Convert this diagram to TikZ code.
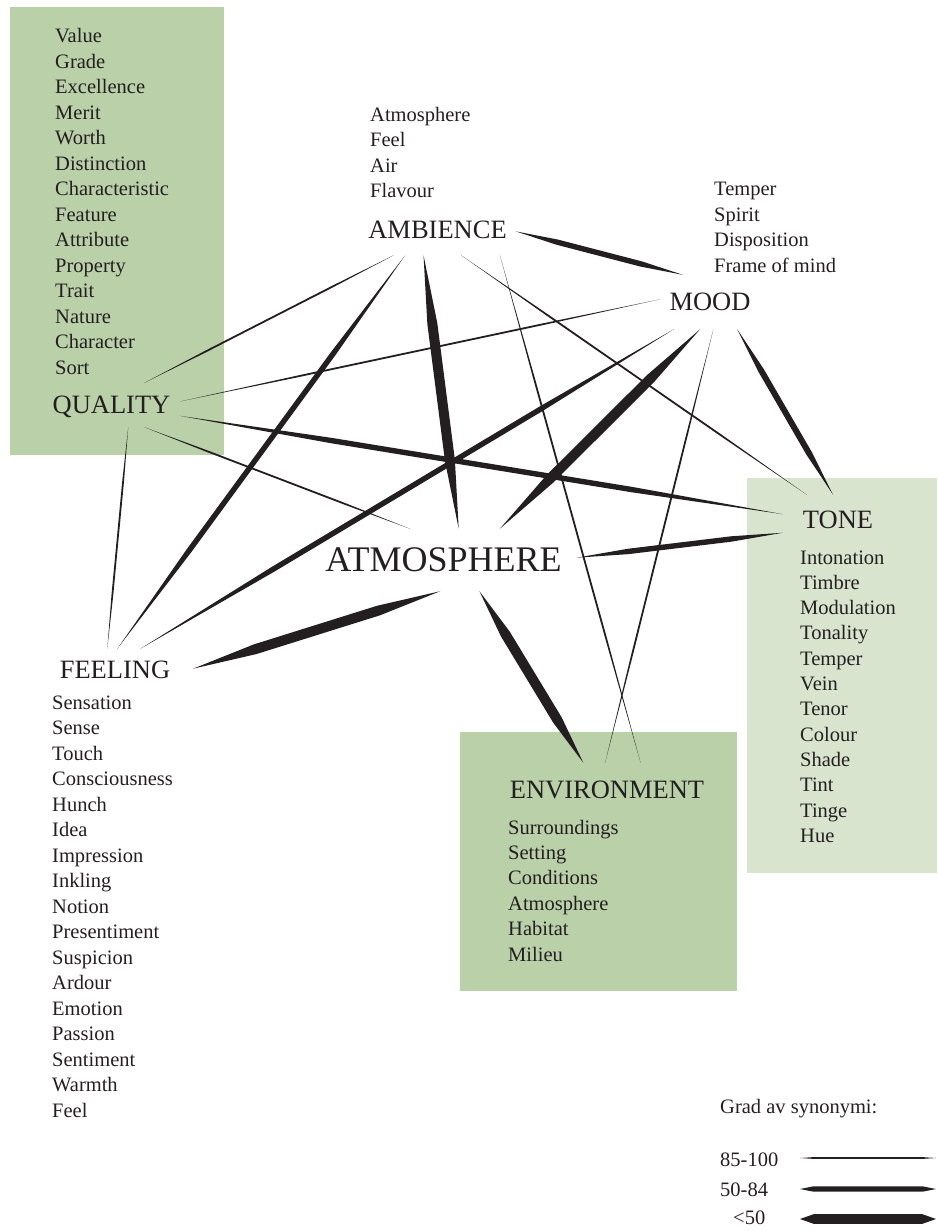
\documentclass[tikz,border=0pt]{standalone}
\usepackage{fontspec}
\setmainfont{Liberation Serif}
\usetikzlibrary{calc}
\definecolor{inkgray}{RGB}{35, 31, 32}
\definecolor{sagegreen}{RGB}{185, 208, 168}
\definecolor{palegreen}{RGB}{217, 228, 207}

% tapered connector: [taper]{from}{to}{half width}
\newcommand{\synlink}[4][0.25]{%
  \fill[inkgray] (#2)
    -- ($(#2)!#1!(#3)!#4!90:(#3)$)
    -- ($(#3)!#1!(#2)!#4!-90:(#2)$)
    -- (#3)
    -- ($(#3)!#1!(#2)!#4!90:(#2)$)
    -- ($(#2)!#1!(#3)!#4!-90:(#3)$)
    -- cycle;}

\tikzset{
  hub/.style={font=\fontsize{26.5}{30}\selectfont, text=inkgray, inner sep=0pt,
    text height=17.5pt, text depth=0pt},
  synword/.style={font=\fontsize{20.5}{24}\selectfont, text=inkgray, inner sep=0pt,
    anchor=base west},
}

\begin{document}
\begin{tikzpicture}[x=1pt, y=-1pt]
  \useasboundingbox (0,0) rectangle (937,1231);

  % boxes
  \fill[sagegreen] (10,7) rectangle (224,455);
  \fill[palegreen] (747,478) rectangle (937,873);
  \fill[sagegreen] (460,732) rectangle (737,991);

  % headwords
  \node[hub, minimum width=156pt, minimum height=50pt] (amb) at (437.5,230) {AMBIENCE};
  \node[hub, minimum width=100pt, minimum height=54pt] (mood) at (710,302) {MOOD};
  \node[hub, minimum width=137pt, minimum height=44pt] (qual) at (111.5,405) {QUALITY};
  \node[hub, minimum width=110pt, minimum height=50pt] (tone) at (838,520) {TONE};
  \node[hub, font=\fontsize{36}{40}\selectfont, text height=23.8pt,
    minimum width=266pt, minimum height=62pt] (atm) at (443.5,560) {ATMOSPHERE};
  \node[hub, minimum width=156pt, minimum height=42pt] (feel) at (115,670) {FEELING};
  \node[hub, minimum width=198pt, minimum height=54pt] (env) at (607,790) {ENVIRONMENT};

  % synonym lists
  \foreach \w [count=\i from 0] in {Value, Grade, Excellence, Merit, Worth, Distinction,
      Characteristic, Feature, Attribute, Property, Trait, Nature, Character, Sort}
    \node[synword] (q\i) at (55, 42.5+25.5*\i) {\w};
  \foreach \w [count=\i from 0] in {Atmosphere, Feel, Air, Flavour}
    \node[synword] (a\i) at (370, 121.5+25.3*\i) {\w};
  \foreach \w [count=\i from 0] in {Temper, Spirit, Disposition, Frame of mind}
    \node[synword] (m\i) at (714, 195.5+25.5*\i) {\w};
  \foreach \w [count=\i from 0] in {Intonation, Timbre, Modulation, Tonality, Temper, Vein,
      Tenor, Colour, Shade, Tint, Tinge, Hue}
    \node[synword] (t\i) at (800, 564+25.3*\i) {\w};
  \foreach \w [count=\i from 0] in {Sensation, Sense, Touch, Consciousness, Hunch, Idea,
      Impression, Inkling, Notion, Presentiment, Suspicion, Ardour, Emotion, Passion,
      Sentiment, Warmth, Feel}
    \node[synword] (f\i) at (52, 709+25.5*\i) {\w};
  \foreach \w [count=\i from 0] in {Surroundings, Setting, Conditions, Atmosphere,
      Habitat, Milieu}
    \node[synword] (e\i) at (508, 834+25.4*\i) {\w};

  % connectors: 0.9pt = 85-100, 2.7pt = 50-84, 5pt = <50
  \synlink{amb.-1.5}{mood.135}{2.7pt}
  \synlink{amb.-150.4}{qual.34.9}{0.9pt}
  \synlink{amb.-142}{feel.84.6}{2.7pt}
  \synlink{amb.-119.2}{atm.64.9}{5pt}
  \synlink{amb.-47.4}{tone.141.1}{0.9pt}
  \synlink{amb.-22.3}{env.39.3}{0.9pt}
  \synlink{mood.177.7}{qual.3.3}{0.9pt}
  \synlink{mood.-143.9}{feel.40}{2.7pt}
  \synlink{mood.-110.3}{atm.29.6}{5pt}
  \synlink{mood.-45}{tone.101.3}{3pt}
  \synlink{mood.-83.7}{env.94.2}{0.9pt}
  \synlink{qual.-9.9}{tone.174.8}{2.7pt}
  \synlink{qual.-34.9}{atm.137.2}{0.9pt}
  \synlink{qual.-53.1}{feel.110.9}{0.9pt}
  \synlink{atm.-96.4}{feel.1.5}{5pt}
  \synlink{atm.1.3}{tone.-167.7}{2.7pt}
  \synlink{atm.-41.1}{env.131.6}{5pt}

  % legend
  \node[synword] (key) at (720,1113) {Grad av synonymi:};
  \node[synword] (k1) at (720,1166) {85-100};
  \node[synword] (k2) at (720,1196) {50-84};
  \node[synword] (k3) at (733,1224) {<50};
  \coordinate (k1a) at (800,1158);
  \coordinate (k1b) at (936,1158);
  \coordinate (k2a) at (800,1189);
  \coordinate (k2b) at (936,1189);
  \coordinate (k3a) at (800,1219);
  \coordinate (k3b) at (936,1219);
  \synlink[0.1]{k1a}{k1b}{0.9pt}
  \synlink[0.1]{k2a}{k2b}{2.7pt}
  \synlink[0.1]{k3a}{k3b}{4.8pt}
\end{tikzpicture}
\end{document}
